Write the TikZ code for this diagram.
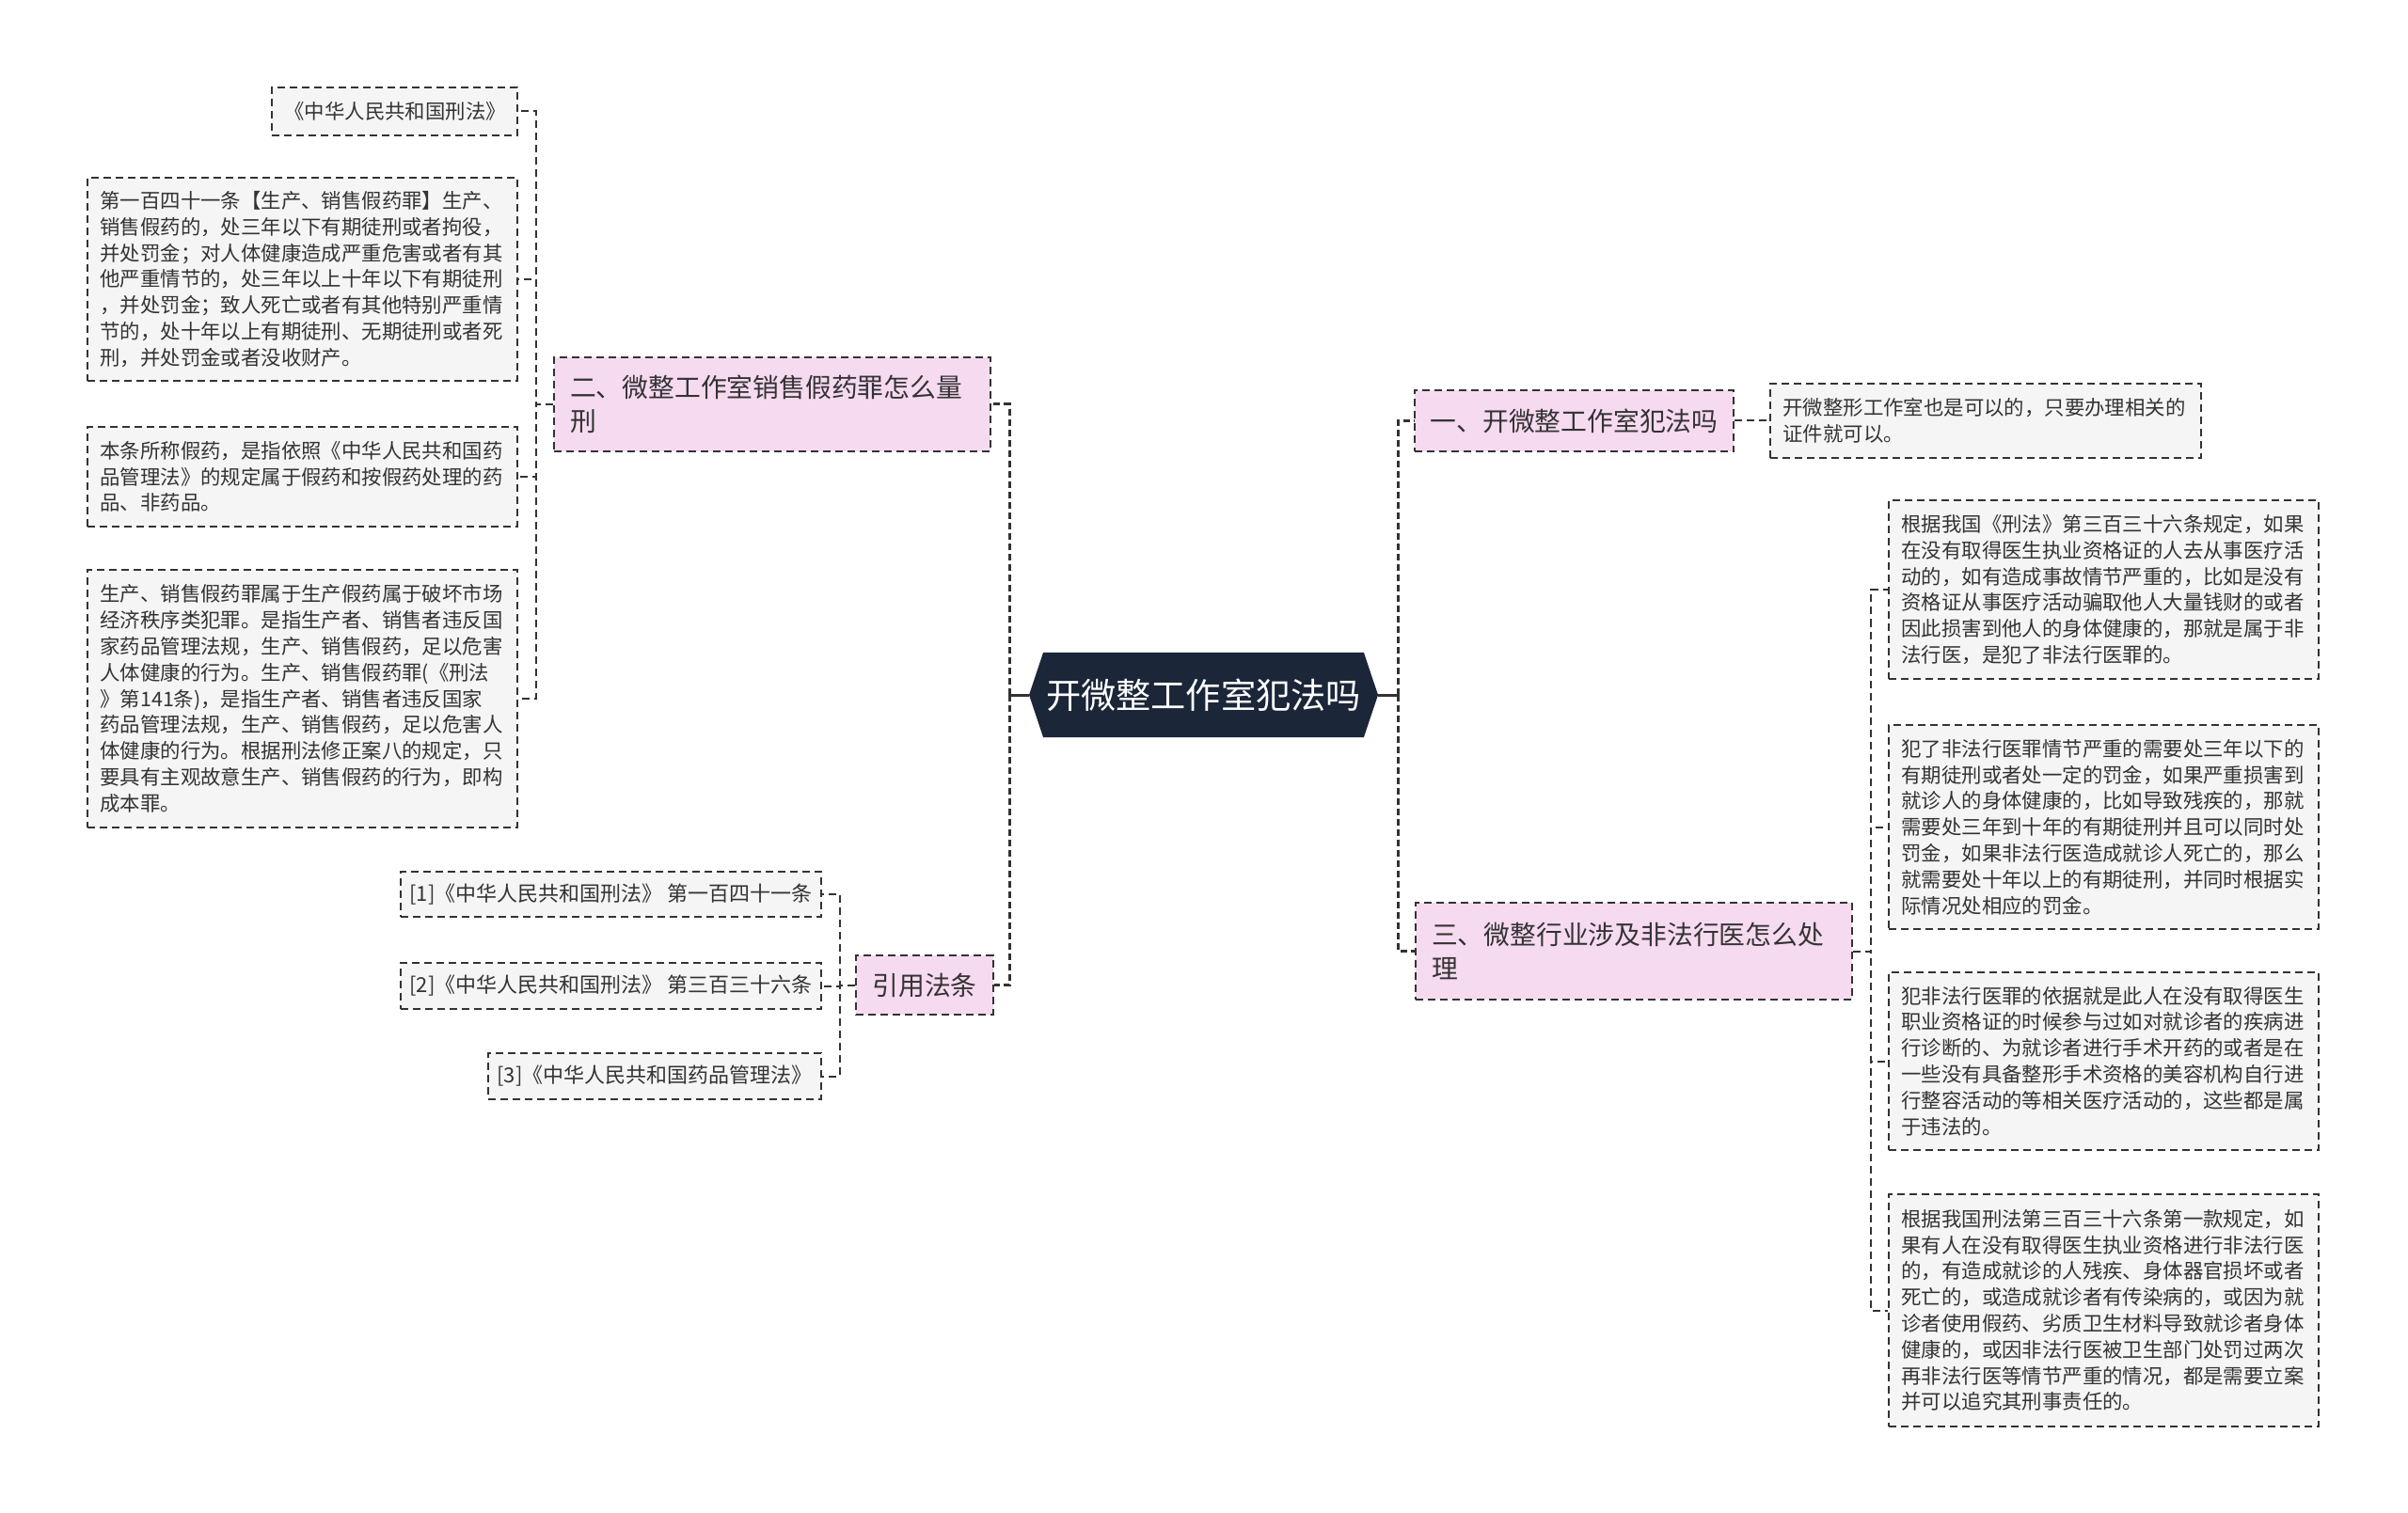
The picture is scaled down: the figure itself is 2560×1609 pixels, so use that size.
\documentclass[tikz,border=0pt]{standalone}
\usepackage{fontspec}
\newfontfamily\cjkfont{Noto Sans CJK SC}
\usepackage{tikz}
\usetikzlibrary{shapes.symbols}

\definecolor{leaffill}{HTML}{F5F5F5}
\definecolor{headfill}{HTML}{F6DAF0}
\definecolor{rootfill}{HTML}{1B2638}
\definecolor{linegrey}{HTML}{333333}
\definecolor{textgrey}{HTML}{333333}

\begin{document}
\begin{tikzpicture}[x=0.5pt, y=-0.5pt,
            leaf/.style={draw=linegrey, line width=1pt, dash pattern=on 4pt off 2.5pt, fill=leaffill, rectangle, text=textgrey, font=\cjkfont\fontsize{10.7}{13.9}\selectfont, align=left, text width=215pt, inner xsep=6.75pt, inner ysep=4pt},
            ref/.style={draw=linegrey, line width=1pt, dash pattern=on 4pt off 2.5pt, fill=leaffill, rectangle, text=textgrey, font=\cjkfont\fontsize{11}{13.9}\selectfont, align=center, inner xsep=3pt},
            heading/.style={draw=linegrey, line width=1pt, dash pattern=on 4pt off 2.5pt, fill=headfill, rectangle, text=textgrey, font=\cjkfont\fontsize{13.9}{18}\selectfont, align=left, inner xsep=8.5pt},
            rootnode/.style={signal, signal to=west and east, signal pointer angle=143, fill=rootfill, text=white, font=\cjkfont\fontsize{18.6}{22}\selectfont, minimum width=185.5pt, minimum height=45pt, inner sep=0pt},
            link/.style={draw=linegrey, line width=1pt, dash pattern=on 4pt off 2.5pt},
            trunk/.style={draw=linegrey, line width=1.5pt, dash pattern=on 3.5pt off 2pt},
            stem/.style={draw=linegrey, line width=1.5pt}
        ]

        \fill[white] (0,0) rectangle (2560,1609);
        \useasboundingbox (0,0) rectangle (2560,1609);

        % Mitte
        \node[rootnode] (root) at (1279.5,739) {开微整工作室犯法吗};

        % links
        \node[heading, text width=215pt, minimum height=50pt] (sec2) at (821,430) {二、微整工作室销售假药罪怎么量\\刑};
        \node[leaf, text width=117pt, minimum height=25.5pt] (lawtitle) at (419.5,118.5) {《中华人民共和国刑法》};
        \node[leaf, minimum height=108pt] (art141) at (321.5,297) {第一百四十一条【生产、销售假药罪】生产、\\销售假药的，处三年以下有期徒刑或者拘役，\\并处罚金；对人体健康造成严重危害或者有其\\他严重情节的，处三年以上十年以下有期徒刑\\，并处罚金；致人死亡或者有其他特别严重情\\节的，处十年以上有期徒刑、无期徒刑或者死\\刑，并处罚金或者没收财产。};
        \node[leaf, minimum height=53pt] (fakedef) at (321.5,507) {本条所称假药，是指依照《中华人民共和国药\\品管理法》的规定属于假药和按假药处理的药\\品、非药品。};
        \node[leaf, minimum height=137pt] (crimedef) at (321.5,743) {生产、销售假药罪属于生产假药属于破坏市场\\经济秩序类犯罪。是指生产者、销售者违反国\\家药品管理法规，生产、销售假药，足以危害\\人体健康的行为。生产、销售假药罪(《刑法\\》第141条)，是指生产者、销售者违反国家\\药品管理法规，生产、销售假药，足以危害人\\体健康的行为。根据刑法修正案八的规定，只\\要具有主观故意生产、销售假药的行为，即构\\成本罪。};

        \node[heading, align=center, minimum width=70pt, minimum height=31.5pt] (cite) at (983,1047.5) {引用法条};
        \node[ref, minimum width=223.5pt, minimum height=24pt] (ref1) at (649.5,951) {[1]《中华人民共和国刑法》 第一百四十一条};
        \node[ref, minimum width=223.5pt, minimum height=24.5pt] (ref2) at (649.5,1048.5) {[2]《中华人民共和国刑法》 第三百三十六条};
        \node[ref, minimum width=177pt, minimum height=24.5pt] (ref3) at (696,1144.5) {[3]《中华人民共和国药品管理法》};

        % rechts
        \node[heading, align=center, minimum width=168.5pt, minimum height=32.5pt] (sec1) at (1673.5,447.5) {一、开微整工作室犯法吗};
        \node[leaf, text width=215.5pt, minimum height=39.5pt] (sec1leaf) at (2111,447.5) {开微整形工作室也是可以的，只要办理相关的\\证件就可以。};

        \node[heading, text width=215pt, minimum height=51.5pt] (sec3) at (1737,1011.5) {三、微整行业涉及非法行医怎么处\\理};
        \node[leaf, minimum height=95pt] (r1) at (2236.5,627) {根据我国《刑法》第三百三十六条规定，如果\\在没有取得医生执业资格证的人去从事医疗活\\动的，如有造成事故情节严重的，比如是没有\\资格证从事医疗活动骗取他人大量钱财的或者\\因此损害到他人的身体健康的，那就是属于非\\法行医，是犯了非法行医罪的。};
        \node[leaf, minimum height=108.5pt] (r2) at (2236.5,879.5) {犯了非法行医罪情节严重的需要处三年以下的\\有期徒刑或者处一定的罚金，如果严重损害到\\就诊人的身体健康的，比如导致残疾的，那就\\需要处三年到十年的有期徒刑并且可以同时处\\罚金，如果非法行医造成就诊人死亡的，那么\\就需要处十年以上的有期徒刑，并同时根据实\\际情况处相应的罚金。};
        \node[leaf, minimum height=94.5pt] (r3) at (2236.5,1128.5) {犯非法行医罪的依据就是此人在没有取得医生\\职业资格证的时候参与过如对就诊者的疾病进\\行诊断的、为就诊者进行手术开药的或者是在\\一些没有具备整形手术资格的美容机构自行进\\行整容活动的等相关医疗活动的，这些都是属\\于违法的。};
        \node[leaf, minimum height=123.5pt] (r4) at (2236.5,1393.5) {根据我国刑法第三百三十六条第一款规定，如\\果有人在没有取得医生执业资格进行非法行医\\的，有造成就诊的人残疾、身体器官损坏或者\\死亡的，或造成就诊者有传染病的，或因为就\\诊者使用假药、劣质卫生材料导致就诊者身体\\健康的，或因非法行医被卫生部门处罚过两次\\再非法行医等情节严重的情况，都是需要立案\\并可以追究其刑事责任的。};

        % Kanten
        \coordinate (lbus) at (570,0);
        \coordinate (cbus) at (1073,0);
        \coordinate (ubus) at (893,0);
        \coordinate (rbus) at (1486,0);
        \coordinate (sbus) at (1989,0);

        \draw[stem] (root.west) -- (root.west -| cbus);
        \draw[stem] (root.east) -- (root.east -| rbus);
        \foreach \n in {sec2,cite}
            \draw[trunk] (root.west -| cbus) |- (\n.east);
        \foreach \n in {sec1,sec3}
            \draw[trunk] (root.east -| rbus) |- (\n.west);

        \foreach \n in {lawtitle,art141,fakedef,crimedef}
            \draw[link] (sec2.west) -- (sec2.west -| lbus) |- (\n.east);
        \foreach \n in {ref1,ref2,ref3}
            \draw[link] (cite.west) -- (cite.west -| ubus) |- (\n.east);
        \draw[link] (sec1.east) -- (sec1leaf.west);
        \foreach \n in {r1,r2,r3,r4}
            \draw[link] (sec3.east) -- (sec3.east -| sbus) |- (\n.west);

    \end{tikzpicture}
\end{document}
